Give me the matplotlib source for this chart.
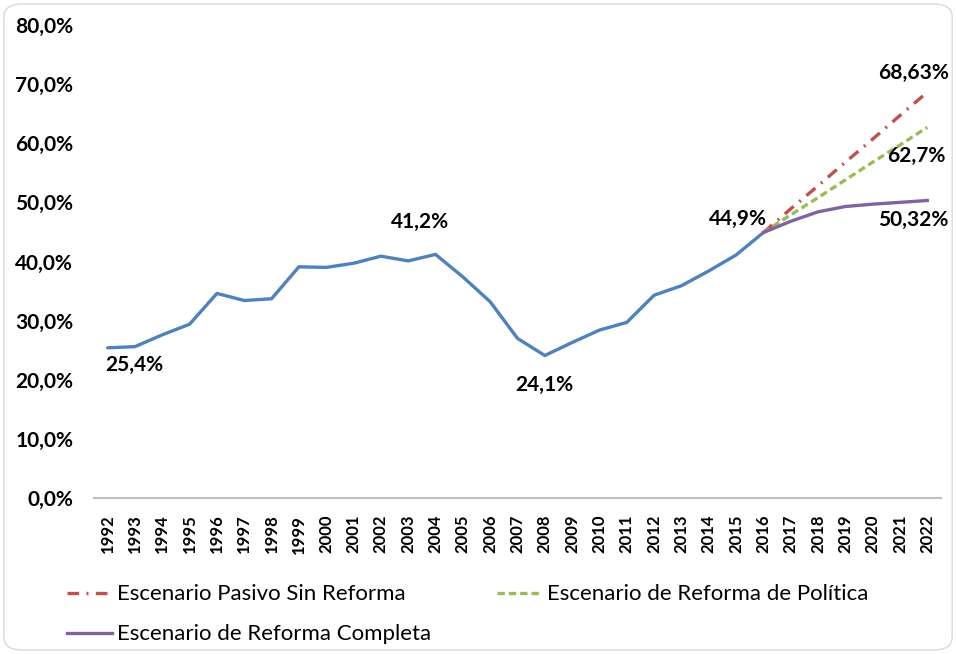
import matplotlib.pyplot as plt
from matplotlib.patches import FancyBboxPatch

# DATA
years = list(range(1992, 2023))
hist_years = list(range(1992, 2017))
hist_vals = [25.4, 25.6, 27.6, 29.4, 34.6, 33.4, 33.7, 39.1, 39.0, 39.7,
             40.9, 40.1, 41.2, 37.4, 33.2, 27.0, 24.1, 26.3, 28.4, 29.7,
             34.3, 35.9, 38.4, 41.1, 44.9]
proj_years = list(range(2016, 2023))
pasivo_vals = [44.9, 48.9, 52.8, 56.8, 60.7, 64.7, 68.63]
politica_vals = [44.9, 47.9, 50.8, 53.8, 56.8, 59.7, 62.7]
completa_vals = [44.9, 46.8, 48.4, 49.3, 49.7, 50.0, 50.32]
yticks = [0, 10, 20, 30, 40, 50, 60, 70, 80]
labels = [(1992, 25.4, "25,4%"), (2004, 41.2, "41,2%"), (2008, 24.1, "24,1%"),
          (2016, 44.9, "44,9%"), (2022, 68.63, "68,63%"), (2022, 62.7, "62,7%"),
          (2022, 50.32, "50,32%")]

plt.rcParams['font.family'] = ['Lato', 'DejaVu Sans']

fig = plt.figure(figsize=(9.56, 6.54), dpi=100)
fig.patch.set_facecolor('white')
ax = fig.add_axes([0.0983, 0.2385, 0.886, 0.7233])

blue = '#4F81BD'
red = '#C0504D'
green = '#9BBB59'
purple = '#8064A2'

ax.plot(hist_years, hist_vals, color=blue, lw=2.4, solid_capstyle='round')
l_pas, = ax.plot(proj_years, pasivo_vals, color=red, lw=2.4, linestyle=(0, (3.5, 2.2, 0.6, 2.2)),
                 label='Escenario Pasivo Sin Reforma')
l_pol, = ax.plot(proj_years, politica_vals, color=green, lw=2.4, linestyle=(0, (2.2, 1.2)),
                 label='Escenario de Reforma de Política')
l_com, = ax.plot(proj_years, completa_vals, color=purple, lw=2.4,
                 label='Escenario de Reforma Completa')

ax.set_xlim(1991.5, 2022.5)
ax.set_ylim(0, 80)
ax.set_yticks(yticks)
ax.set_yticklabels([f"{v},0%" for v in yticks], fontsize=15, fontweight='bold')
ax.set_xticks(years)
ax.set_xticklabels([str(y) for y in years], rotation=90, fontsize=12, fontweight='bold')
ax.tick_params(axis='both', length=0)
ax.tick_params(axis='y', pad=15)
ax.tick_params(axis='x', pad=12)
for s in ['top', 'right', 'left']:
    ax.spines[s].set_visible(False)
ax.spines['bottom'].set_color('#BFBFBF')
ax.spines['bottom'].set_linewidth(1.5)

# data labels (offsets in points)
offsets = {"25,4%": (19, -12), "41,2%": (-11, 23), "24,1%": (0, -21), "44,9%": (-18, 10),
           "68,63%": (-10, 14), "62,7%": (-8, -21), "50,32%": (-10, -14)}
for x, y, txt in labels:
    ax.annotate(txt, (x, y), textcoords='offset points', xytext=offsets[txt],
                ha='center', va='center', fontsize=15, fontweight='bold')

leg = fig.legend(handles=[l_pas, l_com, l_pol], loc='upper left',
                 bbox_to_anchor=(0.0495, 0.137), ncol=2, frameon=False,
                 fontsize=16, handlelength=2.0, handletextpad=0.22,
                 columnspacing=3.0, labelspacing=0.9)

# rounded frame around the picture
frame = FancyBboxPatch((0.004, 0.006), 0.992, 0.988, boxstyle='round,pad=0,rounding_size=0.02',
                       transform=fig.transFigure, fill=False, edgecolor='#D9D9D9', lw=1.0)
fig.patches.append(frame)

plt.savefig('out.png', dpi=100)
